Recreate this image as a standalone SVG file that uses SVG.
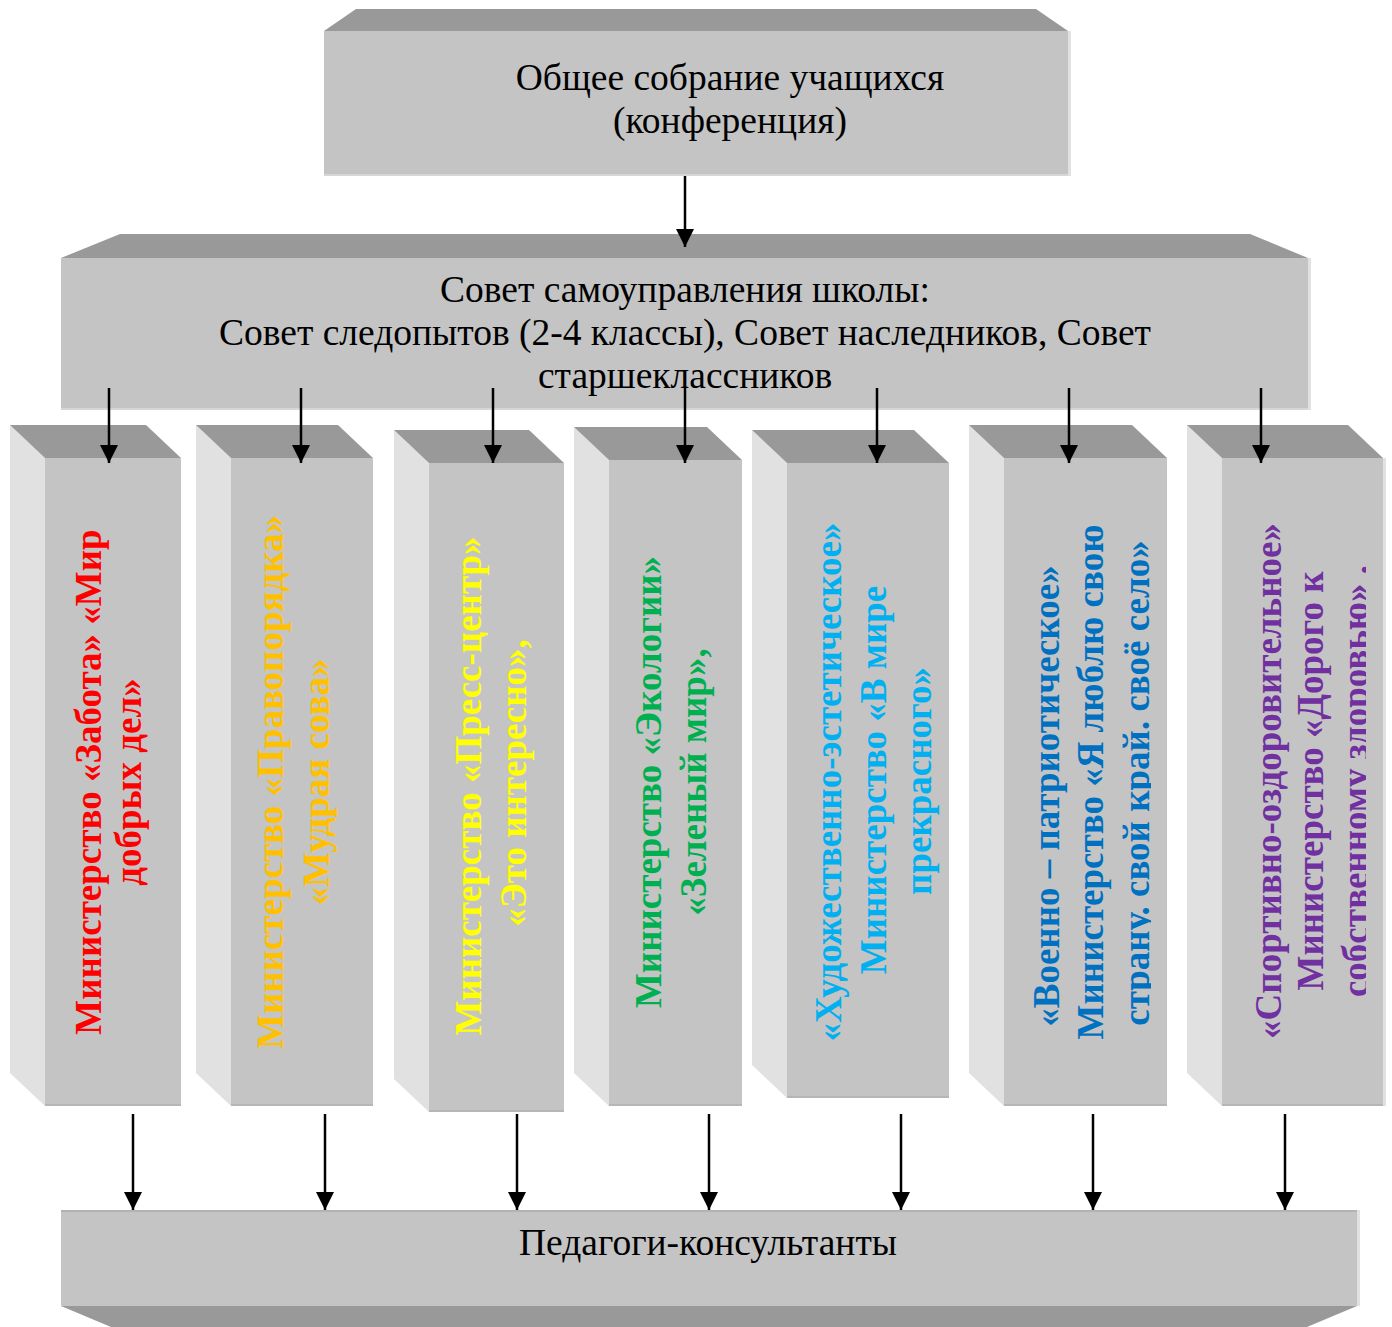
<svg xmlns="http://www.w3.org/2000/svg" width="1392" height="1327" viewBox="0 0 1392 1327">
<defs>
<style>
.front{fill:#c4c4c4;}
.top{fill:#999999;}
.side{fill:#e1e1e1;}
.edge{fill:none;stroke:#b2b2b2;stroke-width:1.5;}
.lbl{font-family:"Liberation Serif","Times New Roman",serif;font-size:37.5px;fill:#000;text-anchor:middle;}
.vt{font-family:"Liberation Serif","Times New Roman",serif;font-size:37px;font-weight:bold;text-anchor:middle;}
.conn line{stroke:#000;stroke-width:2.5;}
</style>
<marker id="ah" markerUnits="userSpaceOnUse" markerWidth="18" markerHeight="18" refX="16" refY="8" orient="auto" viewBox="0 0 16 16">
<path d="M0,0 L16,8 L0,16 Z" fill="#000"/>
</marker>
<clipPath id="clip6"><rect x="950" y="400" width="201" height="750"/></clipPath>
<clipPath id="clip7"><rect x="1180" y="400" width="186" height="750"/></clipPath>
</defs>
<rect width="1392" height="1327" fill="#fff"/>

<g id="node-assembly">
<polygon class="top" points="324,31 356,9 1036,9 1068,31"/>
<rect class="front" x="324" y="31" width="744" height="145"/>
<rect x="1068" y="31" width="3" height="145" fill="#e1e1e1"/>
<line x1="324" y1="175" x2="1068" y2="175" stroke="#d6d6d6" stroke-width="2"/>
<text class="lbl" x="730" y="90">Общее собрание учащихся</text>
<text class="lbl" x="730" y="133">(конференция)</text>
</g>

<g id="node-council">
<polygon class="top" points="61,258 120,234 1250,234 1308,258"/>
<rect class="front" x="61" y="258" width="1247" height="152"/>
<rect x="1308" y="258" width="3" height="152" fill="#e1e1e1"/>
<line x1="61" y1="409" x2="1308" y2="409" stroke="#d6d6d6" stroke-width="2"/>
<text class="lbl" x="685" y="302">Совет самоуправления школы:</text>
<text class="lbl" x="685" y="345">Совет следопытов (2-4 классы), Совет наследников, Совет</text>
<text class="lbl" x="685" y="388">старшеклассников</text>
</g>

<g id="node-min1">
<polygon class="side" points="10,425 45,458 45,1106 10,1073"/>
<polygon class="top" points="10,425 146,425 181,458 45,458"/>
<rect class="front" x="45" y="458" width="136" height="648"/>
<line class="edge" x1="45" y1="1105" x2="181" y2="1105"/>
<text class="vt" fill="#ff0000" transform="translate(101,782) rotate(-90)">Министерство «Забота» «Мир</text>
<text class="vt" fill="#ff0000" transform="translate(141,782) rotate(-90)">добрых дел»</text>
</g>

<g id="node-min2">
<polygon class="side" points="196,425 231,458 231,1106 196,1073"/>
<polygon class="top" points="196,425 338,425 373,458 231,458"/>
<rect class="front" x="231" y="458" width="142" height="648"/>
<line class="edge" x1="231" y1="1105" x2="373" y2="1105"/>
<text class="vt" fill="#ffc000" transform="translate(283,782) rotate(-90)">Министерство «Правопорядка»</text>
<text class="vt" fill="#ffc000" transform="translate(329,782) rotate(-90)">«Мудрая сова»</text>
</g>

<g id="node-min3">
<polygon class="side" points="394,430 429,463 429,1112 394,1079"/>
<polygon class="top" points="394,430 529,430 564,463 429,463"/>
<rect class="front" x="429" y="463" width="135" height="649"/>
<line class="edge" x1="429" y1="1111" x2="564" y2="1111"/>
<text class="vt" fill="#ffff00" transform="translate(481,786) rotate(-90)">Министерство «Пресс-центр»</text>
<text class="vt" fill="#ffff00" transform="translate(526,783) rotate(-90)">«Это интересно»,</text>
</g>

<g id="node-min4">
<polygon class="side" points="574,427 609,460 609,1106 574,1073"/>
<polygon class="top" points="574,427 707,427 742,460 609,460"/>
<rect class="front" x="609" y="460" width="133" height="646"/>
<line class="edge" x1="609" y1="1105" x2="742" y2="1105"/>
<text class="vt" fill="#00b050" transform="translate(661,782) rotate(-90)">Министерство «Экологии»</text>
<text class="vt" fill="#00b050" transform="translate(706,782) rotate(-90)">«Зеленый мир»,</text>
</g>

<g id="node-min5">
<polygon class="side" points="752,430 787,463 787,1098 752,1065"/>
<polygon class="top" points="752,430 914,430 949,463 787,463"/>
<rect class="front" x="787" y="463" width="162" height="635"/>
<line class="edge" x1="787" y1="1097" x2="949" y2="1097"/>
<text class="vt" fill="#00b0f0" transform="translate(841,782) rotate(-90)">«Художественно-эстетическое»</text>
<text class="vt" fill="#00b0f0" transform="translate(886,780) rotate(-90)">Министерство «В мире</text>
<text class="vt" fill="#00b0f0" transform="translate(931,781) rotate(-90)">прекрасного»</text>
</g>

<g id="node-min6">
<polygon class="side" points="969,425 1004,458 1004,1106 969,1073"/>
<polygon class="top" points="969,425 1132,425 1167,458 1004,458"/>
<rect class="front" x="1004" y="458" width="163" height="648"/>
<line class="edge" x1="1004" y1="1105" x2="1167" y2="1105"/>
<g clip-path="url(#clip6)">
<text class="vt" fill="#0070c0" transform="translate(1059,796) rotate(-90)">«Военно – патриотическое»</text>
<text class="vt" fill="#0070c0" transform="translate(1103,782) rotate(-90)">Министерство «Я люблю свою</text>
<text class="vt" fill="#0070c0" transform="translate(1149,783) rotate(-90)">страну. свой край. своё село»</text>
</g>
</g>

<g id="node-min7">
<polygon class="side" points="1187,425 1222,458 1222,1106 1187,1073"/>
<polygon class="top" points="1187,425 1348,425 1383,458 1222,458"/>
<rect class="front" x="1222" y="458" width="161" height="648"/>
<rect x="1383" y="458" width="3" height="648" fill="#e1e1e1"/>
<line class="edge" x1="1222" y1="1105" x2="1383" y2="1105"/>
<g clip-path="url(#clip7)">
<text class="vt" fill="#7030a0" transform="translate(1281,781) rotate(-90)">«Спортивно-оздоровительное»</text>
<text class="vt" fill="#7030a0" transform="translate(1323,781) rotate(-90)">Министерство «Дорого к</text>
<text class="vt" fill="#7030a0" transform="translate(1368,781) rotate(-90)">собственному здоровью» .</text>
</g>
</g>

<g id="node-teachers">
<polygon class="top" points="61,1306 1357,1306 1307,1327 111,1327"/>
<rect class="front" x="61" y="1210" width="1296" height="96"/>
<line x1="61" y1="1211" x2="1357" y2="1211" stroke="#b2b2b2" stroke-width="2"/>
<rect x="1357" y="1210" width="3" height="96" fill="#e1e1e1"/>
<text class="lbl" x="708" y="1255">Педагоги-консультанты</text>
</g>

<g id="connectors" class="conn">
<line x1="685" y1="176" x2="685" y2="247" marker-end="url(#ah)"/>
<line x1="109" y1="388" x2="109" y2="463" marker-end="url(#ah)"/>
<line x1="301" y1="388" x2="301" y2="463" marker-end="url(#ah)"/>
<line x1="493" y1="388" x2="493" y2="463" marker-end="url(#ah)"/>
<line x1="685" y1="388" x2="685" y2="463" marker-end="url(#ah)"/>
<line x1="877" y1="388" x2="877" y2="463" marker-end="url(#ah)"/>
<line x1="1069" y1="388" x2="1069" y2="463" marker-end="url(#ah)"/>
<line x1="1261" y1="388" x2="1261" y2="463" marker-end="url(#ah)"/>
<line x1="133" y1="1114" x2="133" y2="1210" marker-end="url(#ah)"/>
<line x1="325" y1="1114" x2="325" y2="1210" marker-end="url(#ah)"/>
<line x1="517" y1="1114" x2="517" y2="1210" marker-end="url(#ah)"/>
<line x1="709" y1="1114" x2="709" y2="1210" marker-end="url(#ah)"/>
<line x1="901" y1="1114" x2="901" y2="1210" marker-end="url(#ah)"/>
<line x1="1093" y1="1114" x2="1093" y2="1210" marker-end="url(#ah)"/>
<line x1="1285" y1="1114" x2="1285" y2="1210" marker-end="url(#ah)"/>
</g>
</svg>
